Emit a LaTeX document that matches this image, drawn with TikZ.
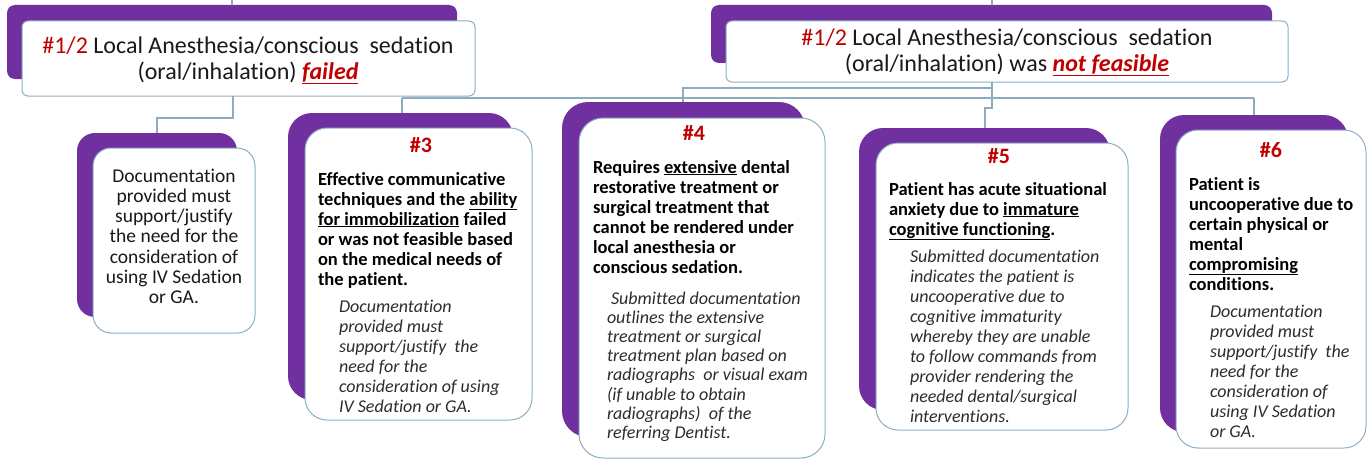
\documentclass[tikz,border=0pt]{standalone}
\usepackage{fontspec}
\setmainfont{Carlito}[Ligatures=NoCommon]
\definecolor{purp}{RGB}{112,48,160}
\definecolor{redt}{RGB}{192,0,0}
\definecolor{bord}{RGB}{140,175,195}
\definecolor{connc}{RGB}{140,172,192}
\definecolor{italc}{RGB}{45,45,45}
\definecolor{maint}{RGB}{25,25,25}
\newcommand\blkL[2]{\parbox[t]{#1}{\raggedright\leavevmode #2}}
\newcommand\blkC[2]{\parbox[t]{#1}{\centering\leavevmode #2}}
\newcommand\bfsz{\fontsize{18.5}{20}\selectfont\bfseries\color{black}}
\newcommand\itsz{\fontsize{18}{20}\selectfont\itshape\color{italc}}
\begin{document}
\begin{tikzpicture}[x=1pt,y=-1pt,
  pbox/.style={fill=purp,draw=none,inner sep=0,outer sep=0},
  wbox/.style={fill=white,draw=bord,line width=1pt,inner sep=0,outer sep=0},
  link/.style={draw=connc,line width=1.3pt},
  txt/.style={inner sep=0,outer sep=0,text=maint},
  hdr/.style={inner sep=0,outer sep=0,anchor=base,font=\fontsize{22}{24}\selectfont\bfseries,text=redt}]
\useasboundingbox (0,0) rectangle (1367,460);
% top boxes
\node[pbox,rounded corners=8pt,minimum width=450pt,minimum height=74pt] (pL) at (232,42) {};
\node[wbox,rounded corners=6pt,minimum width=453pt,minimum height=75pt] (wL) at (248.5,58.5) {};
\node[pbox,rounded corners=8pt,minimum width=561pt,minimum height=58pt] (pR) at (991.5,34) {};
\node[wbox,rounded corners=6pt,minimum width=562pt,minimum height=61pt] (wR) at (1007,51.5) {};
% bottom boxes
\node[pbox,rounded corners=18pt,minimum width=160pt,minimum height=184pt] (pA) at (157,225) {};
\node[wbox,rounded corners=18pt,minimum width=162pt,minimum height=185pt] (wA) at (174,240.5) {};
\node[pbox,rounded corners=24pt,minimum width=225pt,minimum height=287pt] (pB) at (400.5,256.5) {};
\node[wbox,rounded corners=22pt,minimum width=227pt,minimum height=292pt] (wB) at (418.5,274) {};
\node[pbox,rounded corners=26pt,minimum width=243pt,minimum height=335pt] (pD) at (683.5,269.5) {};
\node[wbox,rounded corners=24pt,minimum width=246pt,minimum height=340pt] (wD) at (702,288) {};
\node[pbox,rounded corners=24pt,minimum width=251pt,minimum height=282pt] (pE) at (984.5,269) {};
\node[wbox,rounded corners=22pt,minimum width=252pt,minimum height=287pt] (wE) at (1002,286.5) {};
\node[pbox,rounded corners=24pt,minimum width=188pt,minimum height=317pt] (pF) at (1254,273.5) {};
\node[wbox,rounded corners=22pt,minimum width=190pt,minimum height=318pt] (wF) at (1271,289) {};
% top texts
\node[txt,anchor=base] (tL) at (248,53) {\blkC{450pt}{\fontsize{24}{26.5}\selectfont
  {\color{redt}\#1/2} Local Anesthesia/conscious\ \ sedation\\
  (oral/inhalation) {\color{redt}\underline{\textbf{\textit{failed}}}}}};
\node[txt,anchor=base] (tR) at (1007,46) {\blkC{560pt}{\fontsize{24}{25.5}\selectfont
  {\color{redt}\#1/2} Local Anesthesia/conscious\ \ sedation\\
  (oral/inhalation) was {\color{redt}\underline{\textbf{\textit{not feasible}}}}}};
% box A
\node[txt,anchor=base] (tA) at (174,182) {\blkC{160pt}{\fontsize{19.5}{20.3}\selectfont
  Documentation\\provided must\\support/justify\\the need for the\\consideration of\\using IV Sedation\\or GA.}};
% box B
\node[hdr] (hB) at (421,152) {\#3};
\node[txt,anchor=base west] (bB) at (318,185) {\blkL{215pt}{\bfsz
  Effective communicative\\techniques and the \underline{ability}\\\underline{for immobilization} failed\\or was not feasible based\\on the medical needs of\\the patient.}};
\node[txt,anchor=base west] (iB) at (339,312) {\blkL{195pt}{\itsz
  Documentation\\provided must\\support/justify\ \ the\\need for the\\consideration of using\\IV Sedation or GA.}};
% box D
\node[hdr] (hD) at (694,140) {\#4};
\node[txt,anchor=base west] (bD) at (593,173) {\blkL{230pt}{\bfsz
  Requires \underline{extensive} dental\\restorative treatment or\\surgical treatment that\\cannot be rendered under\\local anesthesia or\\conscious sedation.}};
\node[txt,anchor=base west] (iD) at (607,304) {\blkL{220pt}{\fontsize{18}{19.2}\selectfont\itshape\color{italc}
  \ Submitted documentation\\outlines the extensive\\treatment or surgical\\treatment plan based on\\radiographs\ \ or visual exam\\(if unable to obtain\\radiographs)\ \ of the\\referring Dentist.}};
% box E
\node[hdr] (hE) at (999,163) {\#5};
\node[txt,anchor=base west] (bE) at (889,195) {\blkL{235pt}{\bfsz
  Patient has acute situational\\anxiety due to \underline{immature}\\\underline{cognitive functioning}.}};
\node[txt,anchor=base west] (iE) at (910,262) {\blkL{215pt}{\itsz
  Submitted documentation\\indicates the patient is\\uncooperative due to\\cognitive immaturity\\whereby they are unable\\to follow commands from\\provider rendering the\\needed dental/surgical\\interventions.}};
% box F
\node[hdr] (hF) at (1271,157) {\#6};
\node[txt,anchor=base west] (bF) at (1189,190) {\blkL{178pt}{\bfsz
  Patient is\\uncooperative due to\\certain physical or\\mental\\\underline{compromising}\\conditions.}};
\node[txt,anchor=base west] (iF) at (1210,317) {\blkL{155pt}{\itsz
  Documentation\\provided must\\support/justify\ \ the\\need for the\\consideration of\\using IV Sedation\\or GA.}};
% connectors
\coordinate (inL) at (232,0);
\coordinate (inR) at (992,0);
\draw[link] (inL) -- (inL |- pL.north);
\draw[link] (inR) -- (inR |- pR.north);
\coordinate (jL1) at (233,118);
\coordinate (jL2) at (157,118);
\draw[link] (jL1 |- wL.south) -- (jL1) -- (jL2) -- (jL2 |- pA.north);
\coordinate (hub) at (992,98);
\coordinate (hubB) at (402,98);
\coordinate (hubF) at (1254,98);
\draw[link] (hub |- wR.south) -- (hub);
\draw[link] (hubB) -- (hubF);
\draw[link] (hubB) -- (hubB |- pB.north);
\draw[link] (hubF) -- (hubF |- pF.north);
\coordinate (jE1) at (992,108);
\coordinate (jE2) at (985,108);
\draw[link] (hub) -- (jE1) -- (jE2) -- (jE2 |- pE.north);
\coordinate (jD1) at (992,88);
\coordinate (jD2) at (683,88);
\draw[link] (jD1) -- (jD2) -- (jD2 |- pD.north);
\end{tikzpicture}
\end{document}
